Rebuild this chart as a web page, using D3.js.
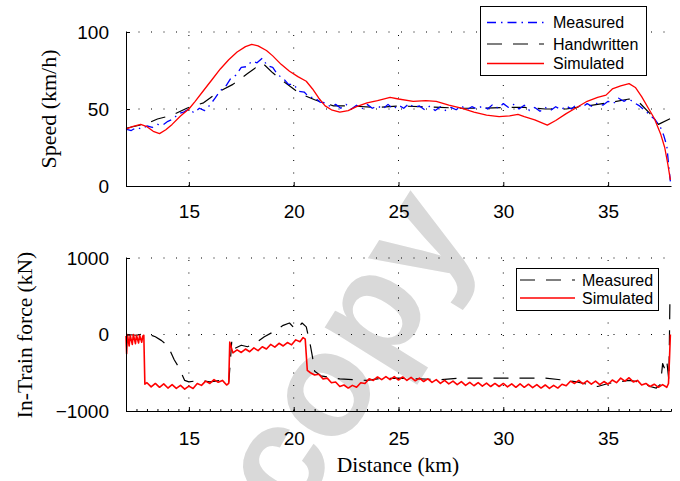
<!DOCTYPE html>
<html>
<head>
<meta charset="utf-8">
<script src="https://cdn.jsdelivr.net/npm/d3@7"></script>
<style>
  body { margin: 0; background: #fff; }
  svg text { font-family: 'Liberation Sans', Arial, sans-serif; }
  svg text.axis-title { font-family: 'Liberation Serif', 'Times New Roman', serif; }
</style>
</head>
<body>
<svg id="chart" width="680" height="481"></svg>
<script>
// ---- data ----
const xTicks = [15, 20, 25, 30, 35];
const speedTicks = [0, 50, 100];
const forceTicks = [-1000, 0, 1000];

// speed panel, [distance km, speed km/h]
const speedMeasured = [
  [12.0, 37], [12.25, 36], [12.5, 38], [12.75, 37], [13.0, 39], [13.25, 38],
  [13.5, 40], [13.75, 39.5], [14.0, 42], [14.25, 43.5], [14.5, 47], [14.75, 48],
  [15.0, 50], [15.25, 47.5], [15.5, 50.5], [15.75, 49], [16.0, 52.5], [16.25, 57],
  [16.5, 62], [16.75, 64.5], [17.0, 70], [17.25, 72], [17.5, 77], [17.75, 77.5],
  [18.0, 81], [18.25, 80], [18.5, 83], [18.75, 78], [19.0, 77], [19.25, 72],
  [19.5, 70], [19.75, 66], [20.0, 66], [20.25, 61.5], [20.5, 61], [20.75, 57.5],
  [21.0, 57.5], [21.25, 54.5], [21.5, 54], [21.75, 51.5], [22.0, 53], [22.25, 50.5],
  [22.5, 53], [22.75, 50], [23.0, 52.5], [23.25, 50], [23.5, 53], [23.75, 50.5],
  [24.0, 52], [24.25, 50], [24.5, 53], [24.75, 50], [25.0, 52.5], [25.25, 50.5],
  [25.5, 53.5], [25.75, 51], [26.0, 52], [26.25, 49.5], [26.5, 52], [26.75, 49],
  [27.0, 51.5], [27.25, 49], [27.5, 51], [27.75, 49.5], [28.0, 52], [28.25, 49.5],
  [28.5, 51.5], [28.75, 50], [29.0, 52], [29.25, 50], [29.5, 53], [29.75, 50.5],
  [30.0, 53.5], [30.25, 51], [30.5, 53], [30.75, 50], [31.0, 52.5], [31.25, 49],
  [31.5, 51], [31.75, 48.5], [32.0, 51], [32.25, 49], [32.5, 51.5], [32.75, 49.5],
  [33.0, 52], [33.25, 50], [33.5, 53], [33.75, 51], [34.0, 53.5], [34.25, 51.5],
  [34.5, 54], [34.75, 52.5], [35.0, 55], [35.25, 53.5], [35.5, 57], [35.75, 55],
  [36.0, 56.5], [36.25, 54], [36.5, 52], [36.75, 49], [37.0, 46], [37.25, 43],
  [37.5, 38], [37.65, 33], [37.8, 26], [37.9, 12], [37.97, 3]
];
const speedHandwritten = [
  [12.0, 37.5], [13.0, 40.5], [13.5, 43.5], [14.2, 46], [14.9, 50.5], [15.7, 54],
  [16.4, 61], [17.1, 66], [17.8, 73], [18.5, 80], [19.0, 73.5], [19.6, 67],
  [20.3, 60], [21.0, 56], [21.9, 52], [22.7, 52], [24.0, 51], [25.0, 52],
  [26.0, 51.5], [27.0, 51], [28.0, 50.5], [29.0, 50.5], [30.0, 51], [31.0, 51],
  [32.0, 50], [33.0, 50], [34.0, 52], [35.0, 54], [36.0, 56.5], [36.5, 54],
  [37.0, 47], [37.4, 40], [38.0, 44]
];
const speedSimulated = [
  [12.0, 37], [12.3, 38.5], [12.7, 40], [13.0, 38.5], [13.3, 35.5], [13.6, 34],
  [13.9, 36.5], [14.2, 40], [14.6, 45.5], [15.0, 50], [15.3, 55], [15.7, 62],
  [16.1, 69], [16.5, 76], [16.9, 82], [17.3, 87], [17.7, 90.5], [18.0, 92],
  [18.3, 91], [18.7, 88], [19.0, 84.5], [19.4, 79], [19.8, 74.5], [20.2, 71],
  [20.6, 68], [20.9, 63], [21.2, 57], [21.5, 52], [21.8, 49.5], [22.2, 48],
  [22.6, 49], [23.0, 51.5], [23.5, 54], [24.0, 55.5], [24.6, 57.5], [25.0, 56.5],
  [25.7, 55], [26.3, 55.5], [26.8, 55], [27.4, 52.5], [28.0, 50.5], [28.6, 48],
  [29.2, 46], [29.8, 45], [30.3, 45.5], [30.7, 46.5], [31.0, 45], [31.5, 43],
  [32.1, 39.5], [32.5, 42.5], [33.0, 47], [33.5, 51], [34.0, 55], [34.5, 57.5],
  [34.9, 59], [35.2, 63], [35.6, 65], [36.0, 66.5], [36.3, 64], [36.6, 58],
  [36.9, 51], [37.2, 44], [37.5, 34], [37.7, 25], [37.85, 14], [37.97, 4]
];

// force panel, [distance km, force kN]
const forceMeasured = [
  [12.0, 0], [12.5, -10], [12.9, 10], [13.1, 0], [13.4, -30], [13.7, -80],
  [14.0, -150], [14.3, -330], [14.5, -420], [14.8, -600], [15.0, -620], [15.5, -600],
  [16.0, -620], [16.5, -600], [16.9, -640], [17.05, -70], [17.2, -180], [17.5, -140],
  [17.8, -160], [18.2, -110], [18.6, -30], [19.0, 30], [19.5, 120], [19.8, 150],
  [20.1, 60], [20.4, 150], [20.6, 100], [20.8, -150], [20.9, -300], [21.0, -480],
  [21.3, -540], [21.7, -560], [22.2, -580], [22.8, -590], [23.5, -600], [24.0, -580],
  [25.0, -570], [26.0, -580], [27.0, -590], [28.0, -570], [29.0, -570], [30.0, -570],
  [31.0, -570], [32.0, -570], [33.0, -600], [33.5, -620], [34.0, -650], [34.5, -680],
  [35.0, -640], [35.5, -620], [36.0, -600], [36.5, -620], [37.0, -680], [37.3, -700],
  [37.5, -650], [37.6, -380], [37.7, -450], [37.8, -350], [37.9, -600], [37.95, 480]
];
const forceSimulated = [
  [12.0, -20], [12.03, -250], [12.07, 0], [12.15, -150], [12.2, -10], [12.3, -130],
  [12.35, 0], [12.45, -120], [12.5, -10], [12.6, -110], [12.65, -10], [12.75, -100],
  [12.8, -20], [12.85, -10], [12.9, -650],
  [13.0, -630], [13.2, -685], [13.4, -640], [13.6, -690], [13.8, -645], [14.0, -700],
  [14.2, -655], [14.4, -705], [14.6, -665], [14.8, -715], [15.0, -675], [15.2, -705],
  [15.4, -640], [15.6, -665], [15.8, -610], [16.0, -640], [16.2, -590], [16.4, -625],
  [16.6, -600], [16.8, -660], [16.9, -640], [16.95, -100], [17.1, -240], [17.3, -200],
  [17.5, -235], [17.7, -190], [17.9, -225], [18.1, -175], [18.3, -210], [18.5, -160],
  [18.7, -190], [18.9, -130], [19.1, -165], [19.3, -115], [19.5, -150], [19.7, -105],
  [19.9, -135], [20.1, -70], [20.3, -95], [20.45, -40], [20.55, -60], [20.65, -470],
  [20.8, -500], [21.0, -530], [21.2, -520], [21.4, -580], [21.6, -570], [21.8, -630],
  [22.0, -620], [22.2, -680], [22.4, -660], [22.6, -700], [22.8, -665], [23.0, -690],
  [23.2, -630], [23.4, -640], [23.6, -580], [23.8, -600], [24.0, -555], [24.2, -590],
  [24.4, -550], [24.6, -590], [24.8, -550], [25.0, -595], [25.2, -555], [25.4, -600],
  [25.6, -560], [25.8, -605], [26.0, -570], [26.2, -615], [26.4, -580], [26.6, -625],
  [26.8, -590], [27.0, -640], [27.2, -600], [27.4, -645], [27.6, -610], [27.8, -655],
  [28.0, -615], [28.2, -665], [28.4, -625], [28.6, -670], [28.8, -630], [29.0, -675],
  [29.2, -635], [29.4, -680], [29.6, -640], [29.8, -680], [30.0, -640], [30.2, -685],
  [30.4, -645], [30.6, -690], [30.8, -645], [31.0, -690], [31.2, -650], [31.4, -695],
  [31.6, -655], [31.8, -700], [32.0, -660], [32.2, -705], [32.4, -665], [32.6, -700],
  [32.8, -650], [33.0, -670], [33.2, -610], [33.4, -640], [33.6, -600], [33.8, -645],
  [34.0, -605], [34.2, -650], [34.4, -610], [34.6, -655], [34.8, -615], [35.0, -650],
  [35.2, -595], [35.4, -630], [35.6, -570], [35.8, -610], [36.0, -565], [36.2, -620],
  [36.4, -600], [36.6, -660], [36.8, -640], [37.0, -680], [37.2, -650], [37.4, -690],
  [37.6, -655], [37.8, -690], [37.88, -640], [37.93, -300], [37.97, 0]
];

// ---- layout ----
const svg = d3.select('#chart');

const x = d3.scaleLinear().domain([12, 38]).range([126, 671]);
const ySpeed = d3.scaleLinear().domain([0, 100]).range([186, 32]);
const yForce = d3.scaleLinear().domain([-1000, 1000]).range([411, 258]);

const blueDash = '9,5,1.5,5';
const blackDash = '15,11';

// watermark sits behind everything (it runs off the bottom edge in the original too)
svg.append('text')
  .attr('transform', 'translate(342,350) rotate(-58)')
  .attr('text-anchor', 'middle')
  .attr('dominant-baseline', 'central')
  .style('font-size', '148px')
  .style('font-weight', 'bold')
  .attr('fill', '#d9d9d9')
  .text('copy');

function drawPanel(y, yTicks) {
  const [y0, y1] = y.range();
  const g = svg.append('g');

  // dotted grid
  g.selectAll('.vgrid')
    .data(xTicks)
    .enter()
    .append('line')
    .attr('x1', (d) => x(d))
    .attr('x2', (d) => x(d))
    .attr('y1', y0)
    .attr('y2', y1)
    .attr('stroke', '#000')
    .attr('stroke-dasharray', '1,11.5');
  g.selectAll('.hgrid')
    .data(yTicks.slice(1))
    .enter()
    .append('line')
    .attr('x1', x.range()[0])
    .attr('x2', x.range()[1])
    .attr('y1', (d) => y(d))
    .attr('y2', (d) => y(d))
    .attr('stroke', '#000')
    .attr('stroke-dasharray', '1,11.5');
  return g;
}

function drawAxes(y, yTicks, labelPad, fmt) {
  const [y0] = y.range();
  const xa = svg.append('g')
    .attr('transform', `translate(0,${y0})`)
    .call(d3.axisBottom(x).tickValues(xTicks).tickSize(-4).tickSizeOuter(0).tickPadding(labelPad));
  const ya = svg.append('g')
    .attr('transform', `translate(${x.range()[0]},0)`)
    .call(d3.axisLeft(y).tickValues(yTicks).tickSize(-4).tickSizeOuter(0).tickPadding(17).tickFormat(fmt));
  [xa, ya].forEach((a) => {
    a.selectAll('text').style('font-size', '19px').attr('fill', '#000');
    a.select('.domain').attr('stroke', '#000');
    a.selectAll('line').attr('stroke', '#000');
  });
}

function drawLine(data, y, color, width, dash) {
  const line = d3.line().x((d) => x(d[0])).y((d) => y(d[1]));
  svg.append('path')
    .datum(data)
    .attr('d', line)
    .attr('fill', 'none')
    .attr('stroke', color)
    .attr('stroke-width', width)
    .attr('stroke-linejoin', 'round')
    .attr('stroke-dasharray', dash);
}

// sample = [start, end] of the line swatch, textX = start of the label, both from the box's left
function drawLegend(left, top, w, h, rowYs, sample, textX, entries) {
  const g = svg.append('g');
  g.append('rect')
    .attr('x', left + 0.5)
    .attr('y', top + 0.5)
    .attr('width', w)
    .attr('height', h)
    .attr('fill', '#fff')
    .attr('stroke', '#000');
  entries.forEach((e, i) => {
    const cy = top + rowYs[i];
    g.append('line')
      .attr('x1', left + sample[0])
      .attr('x2', left + sample[1])
      .attr('y1', cy)
      .attr('y2', cy)
      .attr('stroke', e.color)
      .attr('stroke-width', e.width)
      .attr('stroke-dasharray', e.dash);
    g.append('text')
      .attr('x', left + textX)
      .attr('y', cy)
      .attr('dy', '0.36em')
      .style('font-size', '16px')
      .text(e.name);
  });
}

// ---- speed panel ----
drawPanel(ySpeed, speedTicks);
drawLine(speedHandwritten, ySpeed, '#000', 1.2, blackDash);
drawLine(speedMeasured, ySpeed, '#0000ff', 1.3, blueDash);
drawLine(speedSimulated, ySpeed, '#ff0000', 1.3, null);
drawAxes(ySpeed, speedTicks, 19, d3.format('d'));

// ---- force panel ----
drawPanel(yForce, forceTicks);
drawLine(forceMeasured, yForce, '#000', 1.2, blackDash);
drawLine(forceSimulated, yForce, '#ff0000', 1.6, null);
drawAxes(yForce, forceTicks, 21, (d) => (d < 0 ? '\u2212' + Math.abs(d) : d));

// minor ticks along the lower distance axis
svg.append('g')
  .attr('transform', `translate(0,${yForce.range()[0]})`)
  .call(d3.axisBottom(x).tickValues(x.ticks(50)).tickSize(-2).tickSizeOuter(0).tickFormat(''))
  .call((g) => g.selectAll('line').attr('stroke', '#000'))
  .call((g) => g.select('.domain').attr('stroke', '#000'));

// ---- axis titles ----
svg.append('text')
  .attr('class', 'axis-title')
  .attr('transform', 'translate(56,109) rotate(-90)')
  .attr('text-anchor', 'middle')
  .style('font-size', '22px')
  .text('Speed (km/h)');
svg.append('text')
  .attr('class', 'axis-title')
  .attr('transform', 'translate(32,335) rotate(-90)')
  .attr('text-anchor', 'middle')
  .style('font-size', '21.5px')
  .text('In-Train force (kN)');
svg.append('text')
  .attr('class', 'axis-title')
  .attr('x', 398)
  .attr('y', 472)
  .attr('text-anchor', 'middle')
  .style('font-size', '21.5px')
  .text('Distance (km)');

// ---- legends ----
drawLegend(480, 6, 166, 69, [16.5, 38, 57.5], [7, 64], 73, [
  { name: 'Measured', color: '#0000ff', width: 1.3, dash: blueDash },
  { name: 'Handwritten', color: '#000', width: 1.2, dash: blackDash },
  { name: 'Simulated', color: '#ff0000', width: 1.3, dash: null }
]);
drawLegend(516, 268, 142, 42, [12, 30], [4, 59], 66, [
  { name: 'Measured', color: '#000', width: 1.2, dash: blackDash },
  { name: 'Simulated', color: '#ff0000', width: 1.6, dash: null }
]);
</script>
</body>
</html>
